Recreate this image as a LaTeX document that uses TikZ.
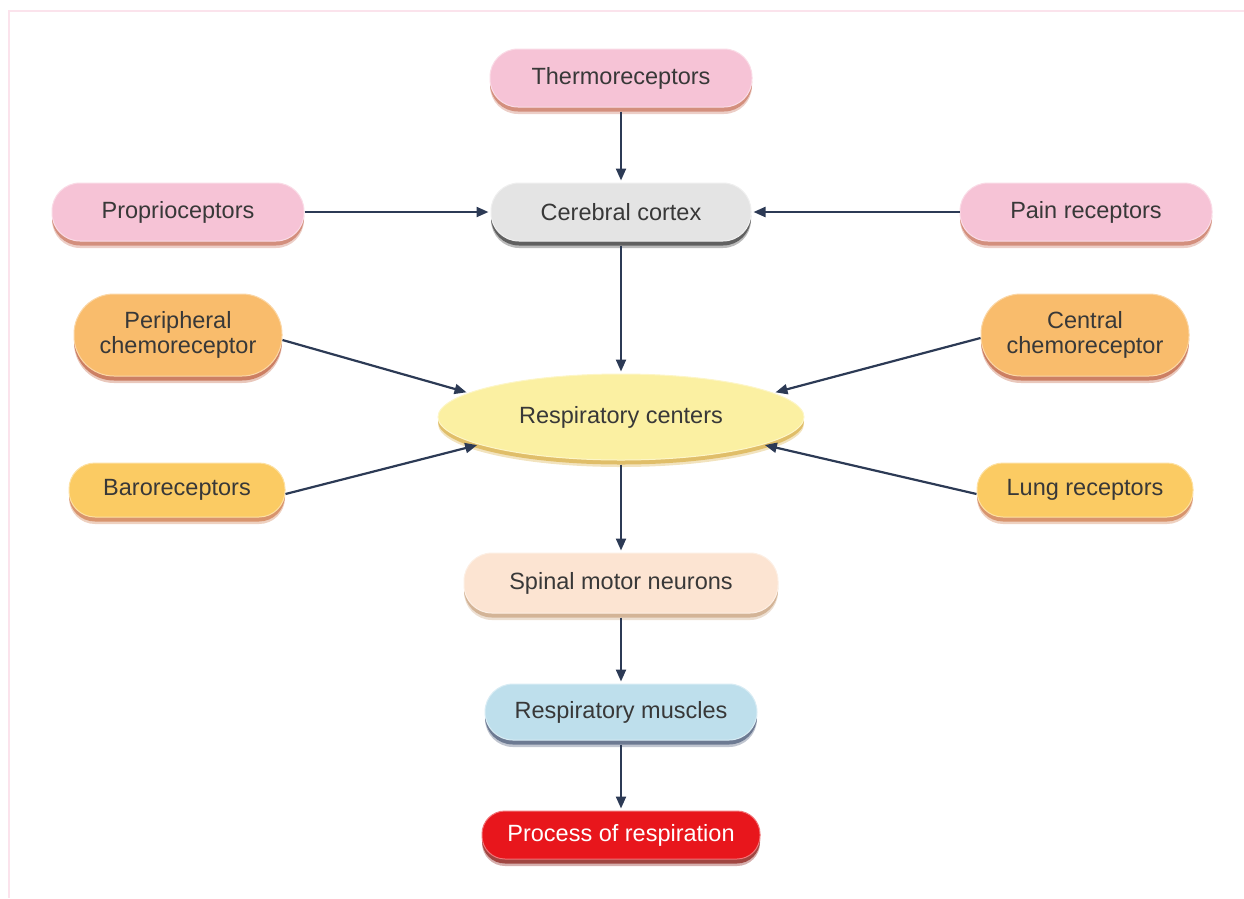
\documentclass[tikz,border=0pt]{standalone}
\usepackage{fontspec}
\setmainfont{Liberation Sans}
\usetikzlibrary{arrows.meta,shadows,shapes.geometric}
\definecolor{txt}{HTML}{383838}
\definecolor{arrc}{HTML}{2C3A55}
\definecolor{pinkF}{HTML}{F6C3D6}\definecolor{pinkS}{HTML}{C9745E}
\definecolor{greyF}{HTML}{E4E4E4}\definecolor{greyS}{HTML}{3A3A3A}
\definecolor{orF}{HTML}{F9BC6C}\definecolor{orS}{HTML}{C0603E}
\definecolor{yeF}{HTML}{FBCB63}\definecolor{yeS}{HTML}{CF7A4A}
\definecolor{rcF}{HTML}{FBF0A2}\definecolor{rcS}{HTML}{D9AE45}
\definecolor{peF}{HTML}{FCE4D2}\definecolor{peS}{HTML}{C9A27E}
\definecolor{blF}{HTML}{BEDFEC}\definecolor{blS}{HTML}{4A5A78}
\definecolor{reF}{HTML}{E8161C}\definecolor{reS}{HTML}{8A1A14}
\definecolor{frame}{HTML}{FBE3EC}
\tikzset{
  lbl/.style={font=\fontsize{23.5}{28}\selectfont, text=txt, align=center, inner sep=0pt},
  box/.style 2 args={lbl, rectangle, rounded corners=28pt, fill=#1, draw=white!40!#1, line width=1pt,
     drop shadow={shadow xshift=0pt, shadow yshift=-7pt, fill=#2, opacity=0.35},
     drop shadow={shadow xshift=0pt, shadow yshift=-4.5pt, fill=#2, opacity=0.7}},
  arr/.style={draw=arrc, line width=2.2pt, -{Triangle[length=12pt,width=10pt]}, shorten >=2pt}
}
\begin{document}
\begin{tikzpicture}[x=1pt,y=-1pt]
\useasboundingbox (0,0) rectangle (1244,898);
\draw[frame, line width=2pt] (9,898) -- (9,11) -- (1244,11);
% nodes
\node[box={pinkF}{pinkS}, minimum width=262pt, minimum height=58pt] (th) at (621,78) {Thermoreceptors};
\node[box={greyF}{greyS}, minimum width=260pt, minimum height=58pt] (cc) at (621,212) {Cerebral cortex};
\node[box={pinkF}{pinkS}, minimum width=252pt, minimum height=58pt] (pr) at (178,212) {Proprioceptors};
\node[box={pinkF}{pinkS}, minimum width=252pt, minimum height=58pt] (pa) at (1086,212) {Pain receptors};
\node[box={orF}{orS}, rounded corners=40pt, minimum width=208pt, minimum height=82pt] (pc) at (178,335) {Peripheral\\[-3pt]chemoreceptor};
\node[box={orF}{orS}, rounded corners=40pt, minimum width=208pt, minimum height=82pt] (ce) at (1085,335) {Central\\[-3pt]chemoreceptor};
\node[lbl, ellipse, fill=rcF, draw=white!40!rcF, line width=1pt, inner sep=0pt,
      minimum width=366pt, minimum height=86pt,
      drop shadow={shadow xshift=0pt, shadow yshift=-7pt, fill=rcS, opacity=0.35},
      drop shadow={shadow xshift=0pt, shadow yshift=-4.5pt, fill=rcS, opacity=0.7}] (rc) at (621,417) {Respiratory centers};
\node[box={yeF}{yeS}, rounded corners=26pt, minimum width=216pt, minimum height=54pt] (ba) at (177,490) {Baroreceptors};
\node[box={yeF}{yeS}, rounded corners=26pt, minimum width=216pt, minimum height=54pt] (lu) at (1085,490) {Lung receptors};
\node[box={peF}{peS}, minimum width=314pt, minimum height=60pt] (sp) at (621,583) {Spinal motor neurons};
\node[box={blF}{blS}, minimum width=272pt, minimum height=56pt] (mu) at (621,712) {Respiratory muscles};
\node[box={reF}{reS}, text=white, rounded corners=23pt, minimum width=278pt, minimum height=48pt] (pro) at (621,835) {Process of respiration};
% connectors
\draw[arr] ([yshift=-4pt]th.south) -- (cc.north);
\draw[arr] (pr.east) -- (cc.west);
\draw[arr] (pa.west) -- (cc.east);
\draw[arr] ([yshift=-4pt]cc.south) -- (rc.north);
\draw[arr] ([yshift=-5pt]pc.east) -- (rc.171);
\draw[arr] ([yshift=-3pt]ce.west) -- (rc.9);
\draw[arr] ([yshift=-4pt]ba.east) -- (rc.191);
\draw[arr] ([yshift=-4pt]lu.west) -- (rc.349);
\draw[arr] ([yshift=-4pt]rc.south) -- (sp.north);
\draw[arr] ([yshift=-4pt]sp.south) -- (mu.north);
\draw[arr] ([yshift=-4pt]mu.south) -- (pro.north);
\end{tikzpicture}
\end{document}
